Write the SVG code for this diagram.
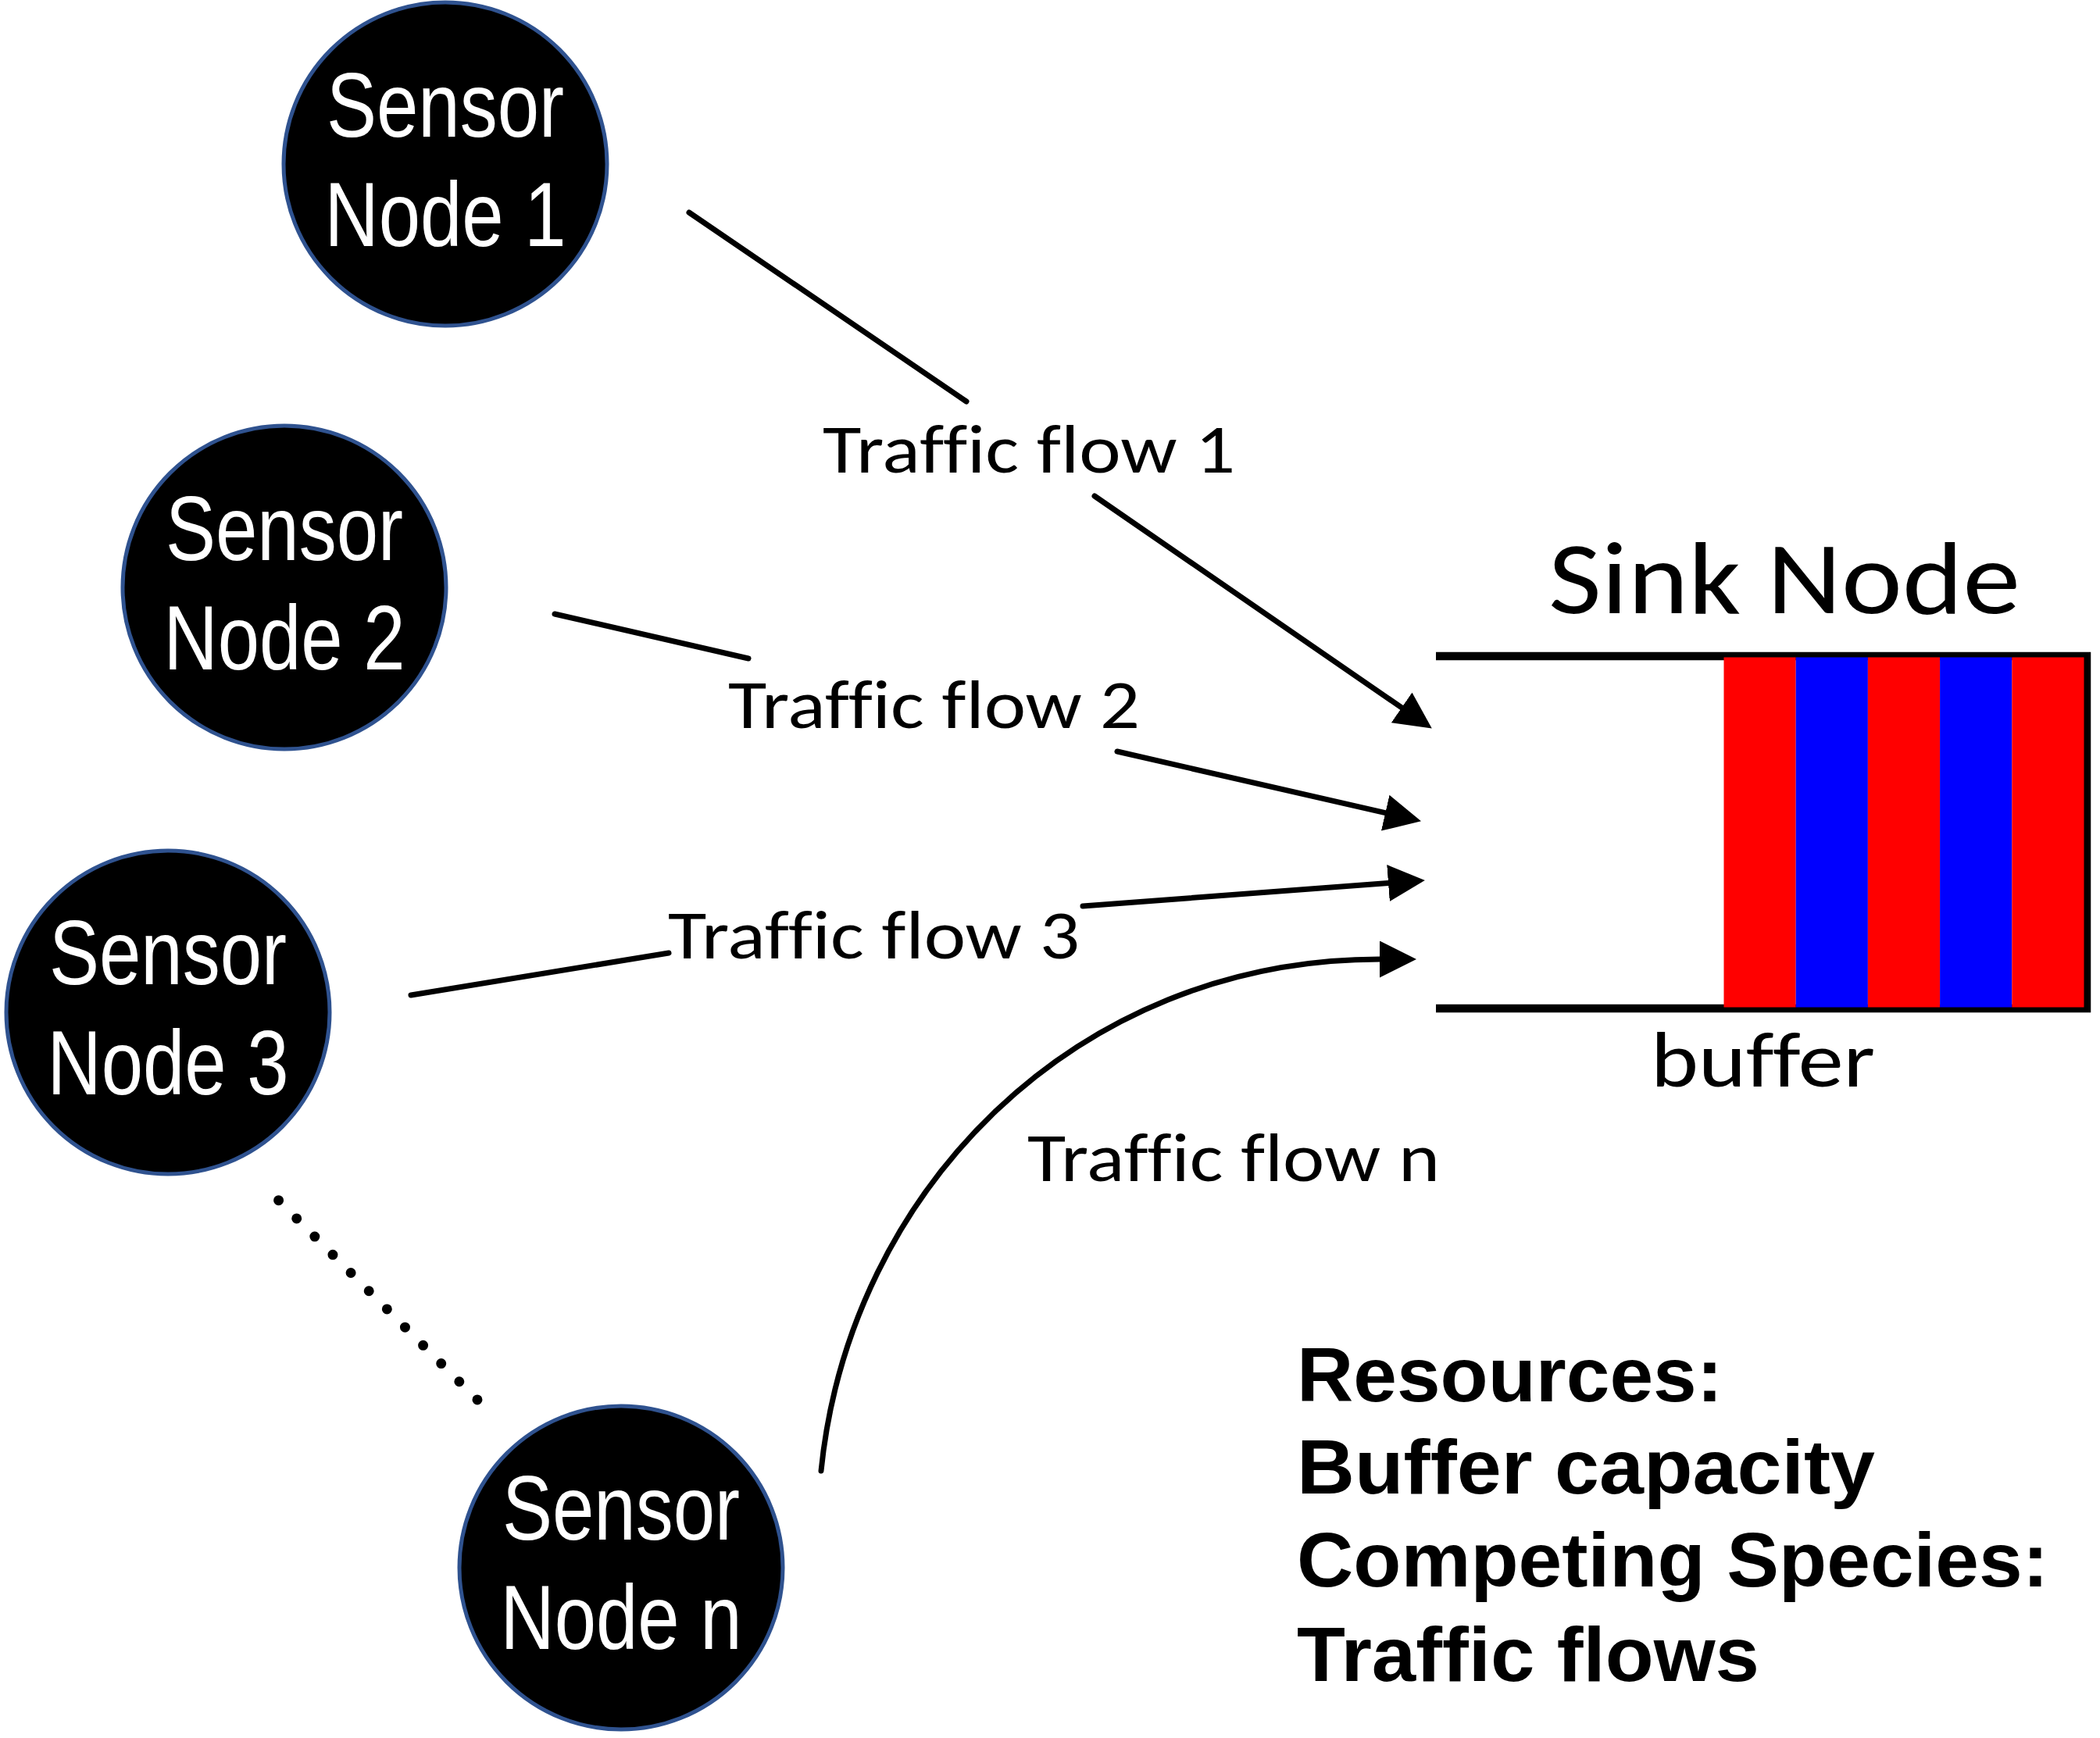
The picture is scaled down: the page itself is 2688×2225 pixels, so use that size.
<svg xmlns="http://www.w3.org/2000/svg" width="2688" height="2225" viewBox="0 0 2688 2225">
  <style>
    .node circle { fill: #000000; stroke: #2F528F; stroke-width: 5; }
    .node text { font-family: "Liberation Sans Narrow", "Liberation Sans", Arial, sans-serif; font-size: 117px; fill: #FFFFFF; text-anchor: middle; }
    .flow { fill: none; stroke: #000000; stroke-width: 7; stroke-linecap: round; marker-end: url(#arrow); }
    .lbl { font-family: Carlito, Lato, "Open Sans", sans-serif; font-size: 88px; fill: #000000; font-variant-ligatures: none; font-feature-settings: "liga" 0; }
    .sink { font-family: Carlito, Lato, "Open Sans", sans-serif; fill: #000000; font-variant-ligatures: none; font-feature-settings: "liga" 0; }
    .res { font-family: "Liberation Sans", Arial, sans-serif; font-weight: bold; font-size: 99px; fill: #000000; }
  </style>
  <defs>
    <marker id="arrow" markerUnits="userSpaceOnUse" markerWidth="47" markerHeight="47" viewBox="0 0 46 46" refX="0" refY="23" orient="auto">
      <path d="M0,0 L46,23 L0,46 Z" fill="#000000"/>
    </marker>
  </defs>
  <rect x="0" y="0" width="2688" height="2225" fill="#FFFFFF"/>

  <g id="sensor-node-1" class="node">
    <circle cx="570" cy="210" r="207"/>
    <text x="570" y="175" textLength="304" lengthAdjust="spacingAndGlyphs">Sensor</text>
    <text x="570" y="315" textLength="309" lengthAdjust="spacingAndGlyphs">Node 1</text>
  </g>
  <g id="sensor-node-2" class="node">
    <circle cx="364" cy="752" r="207"/>
    <text x="364" y="717" textLength="304" lengthAdjust="spacingAndGlyphs">Sensor</text>
    <text x="364" y="857" textLength="309" lengthAdjust="spacingAndGlyphs">Node 2</text>
  </g>
  <g id="sensor-node-3" class="node">
    <circle cx="215" cy="1296" r="207"/>
    <text x="215" y="1260" textLength="304" lengthAdjust="spacingAndGlyphs">Sensor</text>
    <text x="215" y="1401" textLength="309" lengthAdjust="spacingAndGlyphs">Node 3</text>
  </g>
  <g id="sensor-node-n" class="node">
    <circle cx="795" cy="2007" r="207"/>
    <text x="795" y="1971" textLength="304" lengthAdjust="spacingAndGlyphs">Sensor</text>
    <text x="795" y="2111" textLength="309" lengthAdjust="spacingAndGlyphs">Node n</text>
  </g>

  <g id="sink-node">
    <path d="M1838,840 H2671 V1291 H1838" fill="none" stroke="#000000" stroke-width="10.5" stroke-linejoin="miter"/>
    <rect x="2206.5" y="841.5" width="92.2" height="448" fill="#FF0000"/>
    <rect x="2298.7" y="841.5" width="92.2" height="448" fill="#0000FF"/>
    <rect x="2390.9" y="841.5" width="92.2" height="448" fill="#FF0000"/>
    <rect x="2483.1" y="841.5" width="92.2" height="448" fill="#0000FF"/>
    <rect x="2575.3" y="841.5" width="92.2" height="448" fill="#FF0000"/>
    <text class="sink" x="1982" y="785" font-size="132" textLength="604" lengthAdjust="spacingAndGlyphs">Sink Node</text>
    <text class="sink" x="2113" y="1391" font-size="100" textLength="287" lengthAdjust="spacingAndGlyphs">buffer</text>
  </g>

  <g id="connectors">
    <path class="flow" d="M882,272 L1237,514 M1401,635 L1794.1,905.9"/>
    <path class="flow" d="M710,786 L958,843 M1430,962 L1773.2,1040.7"/>
    <path class="flow" d="M526,1274 L856,1220 M1386,1160 L1777,1130.5"/>
    <path class="flow" d="M1051,1883 C1087,1525 1376,1228 1766,1228"/>
    <path d="M356.6,1536.7 L611,1792" fill="none" stroke="#000000" stroke-width="13" stroke-linecap="round" stroke-dasharray="0 32.76"/>
  </g>

  <g id="flow-labels">
    <text class="lbl" x="1053" y="605" textLength="528" lengthAdjust="spacingAndGlyphs">Traffic flow 1</text>
    <text class="lbl" x="932" y="932" textLength="527" lengthAdjust="spacingAndGlyphs">Traffic flow 2</text>
    <text class="lbl" x="855" y="1227" textLength="527" lengthAdjust="spacingAndGlyphs">Traffic flow 3</text>
    <text class="lbl" x="1315" y="1512" textLength="528" lengthAdjust="spacingAndGlyphs">Traffic flow n</text>
  </g>

  <g id="legend">
    <text class="res" x="1660" y="1794" textLength="545" lengthAdjust="spacingAndGlyphs">Resources:</text>
    <text class="res" x="1660" y="1912" textLength="740" lengthAdjust="spacingAndGlyphs">Buffer capacity</text>
    <text class="res" x="1660" y="2031" textLength="962" lengthAdjust="spacingAndGlyphs">Competing Species:</text>
    <text class="res" x="1660" y="2152" textLength="592" lengthAdjust="spacingAndGlyphs">Traffic flows</text>
  </g>
</svg>
